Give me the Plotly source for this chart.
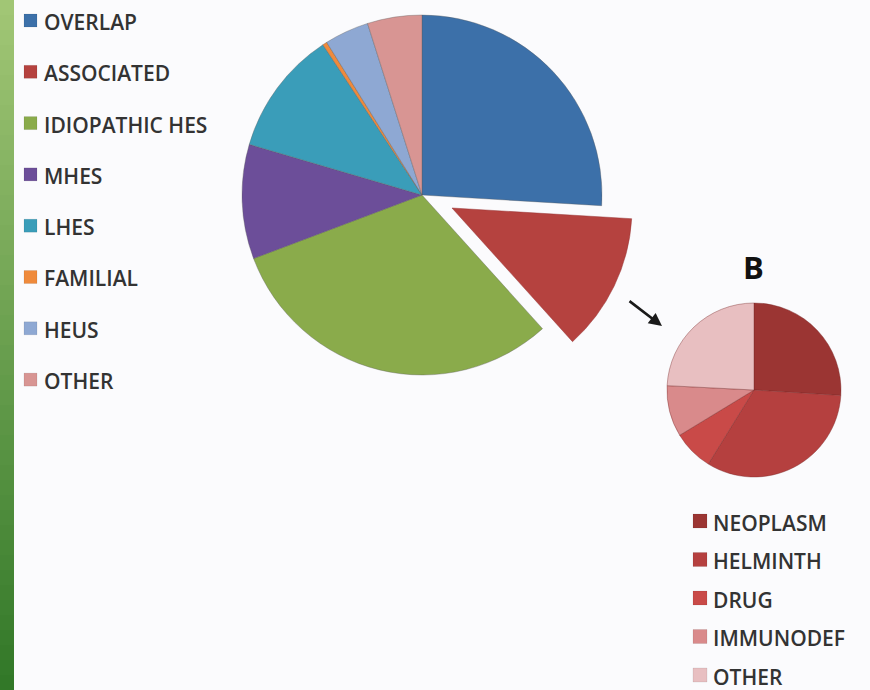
import plotly.graph_objects as go

W, H = 870, 690

# ---- data ----
main_labels = ["OVERLAP", "ASSOCIATED", "IDIOPATHIC HES", "MHES", "LHES", "FAMILIAL", "HEUS", "OTHER"]
main_values = [26.0, 12.4, 31.0, 10.3, 11.2, 0.4, 4.0, 4.9]
main_colors = ["#3c70a9", "#b5423f", "#8aab4b", "#6c4e99", "#3a9db9", "#ef8a3c", "#8ea8d3", "#d89593"]

sub_labels = ["NEOPLASM", "HELMINTH", "DRUG", "IMMUNODEF", "OTHER"]
sub_values = [26.0, 32.8, 7.5, 9.5, 24.2]
sub_colors = ["#9b3533", "#b5403f", "#c94a48", "#d98a8b", "#e8bfc1"]

pulled = "ASSOCIATED"


def px(x):
    return x / W


def py(y):
    return 1 - y / H


fig = go.Figure()

TRANSP = "rgba(0,0,0,0)"

# main pie: everything except the pulled-out slice
base_cols = [TRANSP if l == pulled else c for l, c in zip(main_labels, main_colors)]
base_line = [TRANSP if l == pulled else "rgba(90,90,90,0.45)" for l in main_labels]
cx, cy, r = 422, 195, 180
fig.add_trace(go.Pie(
    labels=main_labels, values=main_values, sort=False, direction="clockwise",
    rotation=0, textinfo="none", hoverinfo="label+percent", showlegend=False,
    marker=dict(colors=base_cols, line=dict(color=base_line, width=0.8)),
    domain=dict(x=[px(cx - r), px(cx + r)], y=[py(cy + r), py(cy - r)]),
))

# pulled-out slice, same pie shifted
dx, dy = 30, 13
pull_cols = [c if l == pulled else TRANSP for l, c in zip(main_labels, main_colors)]
pull_line = ["rgba(150,50,50,0.6)" if l == pulled else TRANSP for l in main_labels]
fig.add_trace(go.Pie(
    labels=main_labels, values=main_values, sort=False, direction="clockwise",
    rotation=0, textinfo="none", hoverinfo="label+percent", showlegend=False,
    marker=dict(colors=pull_cols, line=dict(color=pull_line, width=0.8)),
    domain=dict(x=[px(cx - r + dx), px(cx + r + dx)], y=[py(cy + r + dy), py(cy - r + dy)]),
))

# sub pie B
sx, sy, sr = 754, 390, 87
fig.add_trace(go.Pie(
    labels=sub_labels, values=sub_values, sort=False, direction="clockwise",
    rotation=0, textinfo="none", hoverinfo="label+percent", showlegend=False,
    marker=dict(colors=sub_colors, line=dict(color="rgba(120,40,40,0.5)", width=0.8)),
    domain=dict(x=[px(sx - sr), px(sx + sr)], y=[py(sy + sr), py(sy - sr)]),
))

shapes = []
annotations = []

# green strip on the left edge (gradient)
top_c = (161, 198, 117)
bot_c = (50, 120, 40)
n = 46
for i in range(n):
    t = i / (n - 1)
    c = tuple(int(round(a + (b - a) * t)) for a, b in zip(top_c, bot_c))
    shapes.append(dict(type="rect", xref="paper", yref="paper",
                       x0=0, x1=px(14), y0=py((i + 1) * H / n + 1), y1=py(i * H / n),
                       fillcolor="rgb(%d,%d,%d)" % c, line=dict(width=0), layer="below"))

FONT = "Open Sans"
TXT = "#333333"


def legend(labels, colors, x_sq, y_first, step, size_sq, x_txt, fsize):
    for i, (l, c) in enumerate(zip(labels, colors)):
        yc = y_first + i * step
        shapes.append(dict(type="rect", xref="paper", yref="paper",
                           x0=px(x_sq), x1=px(x_sq + size_sq),
                           y0=py(yc + size_sq / 2), y1=py(yc - size_sq / 2),
                           fillcolor=c, line=dict(color="rgba(0,0,0,0.15)", width=0.5)))
        annotations.append(dict(text=l, xref="paper", yref="paper", x=px(x_txt), y=py(yc + 1.5),
                                xanchor="left", yanchor="middle", showarrow=False,
                                font=dict(family=FONT, size=fsize, color=TXT, weight=600)))


legend(main_labels, main_colors, 24, 20.5, 51.3, 13, 42, 21)
legend(sub_labels, sub_colors, 693, 521, 38.5, 14, 711, 21)

# "B" label
annotations.append(dict(text="<b>B</b>", xref="paper", yref="paper", x=px(753), y=py(267),
                        xanchor="center", yanchor="middle", showarrow=False,
                        font=dict(family=FONT, size=31, color="#111111")))
# arrow
annotations.append(dict(text="", xref="paper", yref="paper", x=px(662), y=py(326),
                        ax=-34, ay=-26, axref="pixel", ayref="pixel", showarrow=True,
                        arrowhead=2, arrowsize=1, arrowwidth=2.6, arrowcolor="#1a1a1a"))

fig.update_layout(
    width=W, height=H, margin=dict(l=0, r=0, t=0, b=0),
    paper_bgcolor="#fbfbfd", plot_bgcolor="#fbfbfd",
    shapes=shapes, annotations=annotations, showlegend=False,
)

fig.write_html("out.html")
